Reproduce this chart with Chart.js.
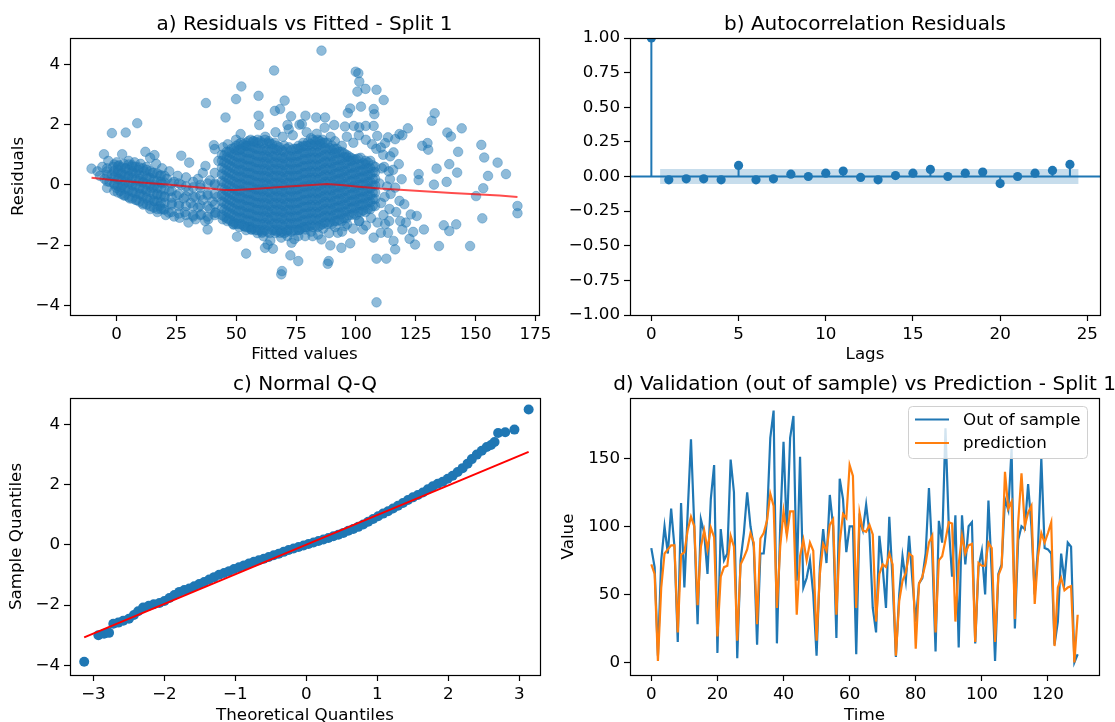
<!DOCTYPE html>
<html>
<head>
<meta charset="utf-8">
<script src="https://cdn.jsdelivr.net/npm/chart.js@4.4.1/dist/chart.umd.min.js"></script>
<style>
  body { margin: 0; background: #fff; width: 1115px; height: 722px; overflow: hidden; position: relative; }
  canvas { position: absolute; }
</style>
</head>
<body>
<canvas id="resid" width="557" height="372" style="left:0;top:0"></canvas>
<canvas id="acf" width="558" height="372" style="left:557px;top:0"></canvas>
<canvas id="qq" width="557" height="361" style="left:0;top:361px"></canvas>
<canvas id="valid" width="558" height="361" style="left:557px;top:361px"></canvas>
<script>
// ---------- data ----------

// a) residuals vs fitted: scattered points, [fitted, residual]
const residualsVsFitted = [
  [-10.5,0.54],[-8,0.45],[-7,0.3],[-6,0.6],[-5.3,1.02],[-5,0.2],[-4,0.45],[-3,0.1],[-3.5,0.8],[-2,1.72],[-2,0.35],[-1.5,0.6],[-1,0.05],[-0.5,0.3],[0,0.75],[0,-0.1],[0.5,0.5],[1,0.2],[1,0.65],[1.5,-0.2],[2,0.4],[2.3,1.02],[2.5,0],[3,0.7],[3,-0.35],[3.5,0.25],[3.8,1.74],[4,0.55],[4.5,-0.1],[5,0.8],[5,0.3],[5.5,-0.45],[6,0.1],[6.5,0.6],[7,-0.25],[7,0.4],[7.5,0.75],[8,0],[8.6,2.05],[8.5,-0.5],[9,0.5],[9.5,0.2],[10,-0.3],[10,0.7],[11,-0.65],[11,0.1],[11.5,0.45],[12,1.1],[12,-0.15],[12.5,0.6],[13,-0.5],[13.5,0.25],[14,-0.8],[14,0.9],[14.5,-0.1],[15,0.4],[15.8,0.99],[16,-0.55],[16,0],[16.5,0.7],[17,-0.9],[17,-0.3],[18,0.3],[18,-0.7],[19,0.05],[19.5,-0.81],[19,0.55],[20,-0.4],[20.5,-1],[21,0.2],[21.8,-0.92],[22,-0.2],[22,0.45],[23,-0.6],[24,0.1],[24,-1.05],[25,-0.35],[25.5,0.3],[26.3,-1.09],[26,-0.7],[27,0.97],[27,0],[28,-0.45],[28.5,-0.9],[29,0.25],[30,-1.25],[30.3,0.74],[30,-0.2],[31,-0.6],[32,0.1],[32,-1],[33,-1.14],[33,-0.4],[34,0.2],[34,-0.75],[35.3,-0.98],[35,-0.1],[36,-0.5],[36,0.4],[37.1,0.63],[37.3,2.72],[37,-1.2],[38,-1.48],[38.3,-1.14],[38,-0.3],[39,-0.8],[39,0.15],[40,-0.55],[40.6,1.32],[41,1.19],[41.3,-0.92],[41,0],[42.5,0.8],[42,-0.4],
  [44.5,1.25],[46.4,1.35],[49.9,1.5],[51.8,1.2],[54.2,1.3],[57.2,1.45],[58.9,1.5],[62.1,1.6],[63.6,1.45],[66.4,1.75],[69.4,1.6],[71.9,1.85],[73.6,1.65],[76.4,2],[79.4,1.75],[81.2,1.55],[83.6,1.7],[86.9,1.9],[89.4,1.6],[91.2,1.45],[94.1,1.3],[96.2,1.6],[98.9,1.4],[101.2,1.65],[104.1,1.5],[106.7,1.35],[108.5,1.2],[111.4,1],[114.3,0.95],[113.7,0.45],[111.8,0.6],[112,-0.4],[114.5,-0.3],[114,-0.8],[111.5,-1],[112.2,-1.3],[113.9,-1.2],[109,-1.25],[106.3,-1.1],[104.2,-1.35],[101.3,-1.2],[98.8,-1.45],[96.3,-1.3],[94.2,-1.55],[91.3,-1.4],[88.8,-1.6],[86.3,-1.45],[84.2,-1.65],[81.3,-1.55],[78.8,-1.7],[76.3,-1.5],[74.2,-1.8],[71.3,-1.55],[68.8,-1.75],[66.3,-1.6],[64.2,-1.85],[61.3,-1.7],[58.8,-1.6],[56.3,-1.48],[54.1,-1.5],[51.2,-1.4],[48.8,-1.31],[46.2,-1.2],
  [85.6,4.46],[65.8,3.8],[99.9,3.76],[101,3.71],[101.4,3.43],[100.6,3.1],[104,3.19],[108.6,3.16],[52.1,3.27],[49.9,2.85],[59.3,2.96],[70.2,2.8],[66.1,2.46],[68.3,2.52],[111.6,2.82],[102.1,2.6],[107.4,2.52],[107.7,2.35],[97.6,2.54],[96.6,2.39],[45.5,2.24],[59.3,2.3],[59.6,1.99],[132.9,2.38],[131.7,2.13],[144.2,1.88],[138.2,1.74],[139.7,1.61],[121.7,1.88],[118.2,1.69],[129.9,1.39],[130.2,1.17],[127.7,1.3],[152.4,1.33],[153.6,0.91],[142.7,1.1],[159.2,0.74],[162.7,0.36],[155.2,0.3],[139,0.69],[142.3,0.41],[133.7,0.54],[137.9,0.1],[132.6,0.01],[126.2,0.36],[126.2,0.16],[153.2,-0.11],[150.2,-0.37],[167.5,-0.7],[167.5,-0.94],[152.8,-1.11],[141.9,-1.31],[136.7,-1.34],[139,-1.53],[128.4,-1.48],[125.4,-1.03],[134.7,-2.03],[147.7,-2.03],[124.7,-1.98],[122.4,-1.79],[116.4,-2.14],[112.7,-2.45],[108.6,-2.45],[108.6,-3.9],[88.2,-2.62],[88.6,-2.53],[68.8,-2.97],[69.1,-2.86],[72.6,-2.34],[75.9,-2.53],[54.1,-2.28],[65.3,-2.12],[62,-2.09],[73.1,-1.92],[89.3,-2.01],[93.9,-2.09],[97.6,-1.94],[107.4,-1.75],[85.6,-1.81],[50.3,-1.72],[51.8,1.69],
  [120.2,-0.64],[122.9,-0.98],[118.2,-0.53],[116.4,-0.09],[114.2,0.19],[119.1,0.19],[117.9,0.69],[115.7,1.08],[112.2,1.39],[108.9,1.63],[110.4,1.24],[113.4,1.58],[116.4,1.52],[119.4,1.65],[107.4,1.96],[104.1,1.96],[101.4,1.91],[99.1,1.96],[95.4,1.94],[90.9,1.99],[87.1,2.24],[83.4,2.24],[78.9,2.3],[72.9,2.28],[71.4,1.99],[77.4,2.02],
  [110.4,-1.59],[113.4,-1.59],[115.7,-1.86],[119.4,-1.48],[120.9,-1.25],[123.9,-1.56],[102.9,-1.48],[101.4,-1.2],[92.4,-1.59],[95.4,-1.37],[81.9,-1.7],[78.9,-1.48],[75.9,-1.7],[71.4,-1.7],[68.3,-1.59],[63.1,-1.98],[60.8,-1.59],[56.3,-1.48],[53.3,-1.37],[48.8,-1.31],[44.3,-1.14],[41.3,-0.92],
  [110.5,-0.6],[109.8,0.05],[110.8,0.55],[113,-0.05],[115.5,0.5],[116.8,-0.9],[118.5,-1.2]
];
// a) the dense body of the cloud, one column of residuals per fitted value
const cloudColumnsX = [-4, -1, 2, 5, 8, 11, 14, 17, 20, 23, 26, 29, 32, 35, 38, 41,
  44, 46, 48, 50, 52, 54, 56, 58, 60, 62, 64, 66, 68, 70, 72, 74, 76, 78, 80, 82, 84, 86, 88, 90, 92, 94, 96, 98, 100, 102, 104, 106, 108,
  0.5, 3.5, 6.5, 9.5, 12.5, 15.5, 18.5,
  45, 47, 49, 51, 53, 55, 57, 59, 61, 63, 65, 67, 69, 71, 73, 75, 77, 79, 81, 83, 85, 87, 89, 91, 93, 95, 97, 99, 101, 103, 105, 107];
const cloudColumnsY = [
  [-0.1,0.12,0.33,0.55],
  [-0.2,0.02,0.25,0.46,0.68],
  [-0.3,-0.08,0.15,0.36,0.58],
  [-0.4,-0.18,0.05,0.27,0.5,0.68],
  [-0.5,-0.27,-0.05,0.18,0.4,0.6],
  [-0.6,-0.37,-0.14,0.08,0.3,0.55],
  [-0.7,-0.46,-0.23,0,0.22,0.45],
  [-0.8,-0.55,-0.32,-0.1,0.13,0.38],
  [-0.82,-0.6,-0.38,-0.15,0.08,0.3],
  [-0.9,-0.65,-0.42,-0.2,0.05],
  [-0.95,-0.62,-0.3,0.05],
  [-1,-0.7,-0.38,-0.05],
  [-1.05,-0.72,-0.4,-0.08],
  [-1,-0.68,-0.35,0],
  [-1.05,-0.7,-0.35,0.05],
  [-1,-0.65,-0.3,0.05,0.4],
  [-1,-0.78,-0.55,-0.33,-0.1,0.12,0.35,0.57,0.8,1],
  [-1.1,-0.88,-0.65,-0.42,-0.2,0.03,0.25,0.48,0.7,0.92,1.1],
  [-1.2,-0.97,-0.75,-0.52,-0.3,-0.08,0.15,0.37,0.6,0.82,1.05,1.2],
  [-1.3,-1.07,-0.85,-0.62,-0.4,-0.18,0.05,0.27,0.5,0.72,0.95,1.15,1.3],
  [-1.3,-1.08,-0.85,-0.63,-0.4,-0.17,0.05,0.28,0.5,0.73,0.95,1.18,1.4],
  [-1.4,-1.17,-0.95,-0.72,-0.5,-0.27,-0.05,0.18,0.4,0.63,0.85,1.08,1.3,1.4],
  [-1.4,-1.18,-0.95,-0.73,-0.5,-0.28,-0.05,0.17,0.4,0.62,0.85,1.07,1.3,1.5],
  [-1.5,-1.27,-1.05,-0.82,-0.6,-0.37,-0.15,0.08,0.3,0.53,0.75,0.98,1.2,1.42],
  [-1.5,-1.28,-1.05,-0.83,-0.6,-0.38,-0.15,0.07,0.3,0.52,0.75,0.97,1.2,1.45],
  [-1.5,-1.27,-1.04,-0.82,-0.6,-0.37,-0.14,0.08,0.3,0.53,0.76,0.98,1.2,1.5],
  [-1.6,-1.37,-1.15,-0.92,-0.7,-0.47,-0.25,-0.02,0.2,0.43,0.65,0.88,1.1,1.38],
  [-1.5,-1.28,-1.05,-0.83,-0.6,-0.38,-0.15,0.07,0.3,0.52,0.75,0.97,1.2,1.4],
  [-1.5,-1.27,-1.05,-0.82,-0.6,-0.37,-0.15,0.08,0.3,0.53,0.75,0.98,1.25],
  [-1.6,-1.37,-1.14,-0.92,-0.7,-0.47,-0.24,-0.02,0.2,0.43,0.66,0.88,1.1,1.3],
  [-1.5,-1.28,-1.05,-0.83,-0.6,-0.38,-0.15,0.07,0.3,0.52,0.75,0.97,1.25],
  [-1.5,-1.27,-1.04,-0.82,-0.6,-0.37,-0.14,0.08,0.3,0.53,0.76,0.98,1.2],
  [-1.5,-1.28,-1.05,-0.83,-0.6,-0.38,-0.15,0.07,0.3,0.52,0.75,0.97,1.2,1.3],
  [-1.4,-1.17,-0.95,-0.72,-0.5,-0.27,-0.05,0.18,0.4,0.63,0.85,1.08,1.3,1.4],
  [-1.4,-1.18,-0.95,-0.73,-0.5,-0.28,-0.05,0.17,0.4,0.62,0.85,1.07,1.3,1.42],
  [-1.4,-1.17,-0.94,-0.72,-0.5,-0.27,-0.04,0.18,0.4,0.63,0.86,1.08,1.3,1.5],
  [-1.4,-1.18,-0.95,-0.73,-0.5,-0.28,-0.05,0.17,0.4,0.62,0.85,1.07,1.3,1.5],
  [-1.3,-1.08,-0.85,-0.63,-0.4,-0.18,0.05,0.27,0.5,0.72,0.95,1.17,1.4,1.5],
  [-1.3,-1.07,-0.85,-0.62,-0.4,-0.17,0.05,0.28,0.5,0.73,0.95,1.18,1.4],
  [-1.3,-1.08,-0.85,-0.63,-0.4,-0.18,0.05,0.27,0.5,0.72,0.95,1.15,1.3],
  [-1.2,-0.97,-0.75,-0.52,-0.3,-0.07,0.15,0.38,0.6,0.83,1.05,1.2],
  [-1.2,-0.98,-0.75,-0.53,-0.3,-0.08,0.15,0.37,0.6,0.82,1.1],
  [-1.1,-0.88,-0.65,-0.43,-0.2,0.02,0.25,0.47,0.7,0.92,1],
  [-1,-0.78,-0.55,-0.33,-0.1,0.12,0.35,0.57,0.8,0.9],
  [-1,-0.77,-0.55,-0.32,-0.1,0.13,0.35,0.58,0.85],
  [-0.9,-0.68,-0.45,-0.23,0,0.22,0.45,0.67,0.9],
  [-0.9,-0.67,-0.45,-0.22,0,0.23,0.45,0.68,0.8],
  [-0.8,-0.57,-0.35,-0.12,0.1,0.33,0.55,0.8],
  [-0.7,-0.47,-0.25,-0.02,0.2,0.43,0.6],
  [-0.25,-0.03,0.2,0.42,0.62],
  [-0.35,-0.13,0.1,0.32,0.55],
  [-0.45,-0.22,0,0.23,0.45,0.65],
  [-0.55,-0.32,-0.1,0.13,0.35,0.58],
  [-0.65,-0.42,-0.2,0.03,0.25,0.5],
  [-0.75,-0.52,-0.3,-0.07,0.15,0.4],
  [-0.8,-0.58,-0.35,-0.12,0.1,0.32],
  [-1.05,-0.83,-0.6,-0.38,-0.15,0.07,0.3,0.52,0.75,0.98],
  [-1.15,-0.93,-0.7,-0.48,-0.25,-0.03,0.2,0.42,0.65,0.87,1.1],
  [-1.25,-1.02,-0.8,-0.57,-0.35,-0.12,0.1,0.33,0.55,0.78,1,1.22],
  [-1.3,-1.1,-0.88,-0.65,-0.43,-0.2,0.02,0.25,0.47,0.7,0.92,1.15,1.35],
  [-1.35,-1.12,-0.9,-0.67,-0.45,-0.22,0,0.23,0.45,0.68,0.9,1.13,1.35],
  [-1.4,-1.18,-0.95,-0.73,-0.5,-0.28,-0.05,0.17,0.4,0.62,0.85,1.07,1.3,1.45],
  [-1.45,-1.22,-1,-0.77,-0.55,-0.32,-0.1,0.13,0.35,0.58,0.8,1.03,1.25,1.45],
  [-1.5,-1.28,-1.05,-0.83,-0.6,-0.38,-0.15,0.07,0.3,0.52,0.75,0.97,1.2,1.4],
  [-1.55,-1.32,-1.1,-0.87,-0.65,-0.42,-0.2,0.03,0.25,0.48,0.7,0.93,1.15,1.38],
  [-1.55,-1.33,-1.1,-0.88,-0.65,-0.43,-0.2,0.02,0.25,0.47,0.7,0.92,1.15,1.38],
  [-1.5,-1.28,-1.05,-0.83,-0.6,-0.38,-0.15,0.07,0.3,0.52,0.75,0.97,1.2,1.35],
  [-1.55,-1.32,-1.1,-0.87,-0.65,-0.42,-0.2,0.03,0.25,0.48,0.7,0.93,1.15,1.3],
  [-1.55,-1.33,-1.1,-0.88,-0.65,-0.43,-0.2,0.02,0.25,0.47,0.7,0.92,1.15],
  [-1.5,-1.28,-1.05,-0.83,-0.6,-0.38,-0.15,0.07,0.3,0.52,0.75,0.97,1.2],
  [-1.55,-1.32,-1.1,-0.87,-0.65,-0.42,-0.2,0.03,0.25,0.48,0.7,0.93,1.15],
  [-1.5,-1.28,-1.05,-0.83,-0.6,-0.38,-0.15,0.07,0.3,0.52,0.75,0.97,1.2],
  [-1.45,-1.22,-1,-0.77,-0.55,-0.32,-0.1,0.13,0.35,0.58,0.8,1.03,1.25],
  [-1.4,-1.18,-0.95,-0.73,-0.5,-0.28,-0.05,0.17,0.4,0.62,0.85,1.07,1.3],
  [-1.35,-1.12,-0.9,-0.67,-0.45,-0.22,0,0.23,0.45,0.68,0.9,1.13,1.35],
  [-1.35,-1.12,-0.9,-0.67,-0.45,-0.22,0,0.23,0.45,0.68,0.9,1.13,1.35,1.45],
  [-1.35,-1.13,-0.9,-0.68,-0.45,-0.23,0,0.22,0.45,0.67,0.9,1.12,1.35,1.45],
  [-1.25,-1.02,-0.8,-0.57,-0.35,-0.12,0.1,0.33,0.55,0.78,1,1.23,1.4],
  [-1.25,-1.03,-0.8,-0.58,-0.35,-0.13,0.1,0.32,0.55,0.77,1,1.22],
  [-1.2,-0.98,-0.75,-0.53,-0.3,-0.08,0.15,0.37,0.6,0.82,1.05,1.2],
  [-1.15,-0.92,-0.7,-0.47,-0.25,-0.02,0.2,0.43,0.65,0.88,1.1],
  [-1.1,-0.88,-0.65,-0.43,-0.2,0.02,0.25,0.47,0.7,0.92,1.05],
  [-1,-0.78,-0.55,-0.33,-0.1,0.12,0.35,0.57,0.8,0.95],
  [-0.95,-0.72,-0.5,-0.27,-0.05,0.18,0.4,0.63,0.85],
  [-0.9,-0.67,-0.45,-0.22,0,0.23,0.45,0.68,0.88],
  [-0.85,-0.62,-0.4,-0.17,0.05,0.28,0.5,0.72],
  [-0.8,-0.57,-0.35,-0.12,0.1,0.33,0.55,0.75],
  [-0.7,-0.47,-0.25,-0.02,0.2,0.43,0.65]
];
const lowessFitted = [-10.5, 0, 10, 20, 30, 40, 45, 50, 60, 70, 80, 88, 95, 100, 110, 120, 130, 140, 150, 160, 167.5];
const lowessResid  = [0.24, 0.15, 0.08, 0.02, -0.05, -0.13, -0.17, -0.17, -0.12, -0.06, -0.01, 0.03, -0.01, -0.05, -0.12, -0.17, -0.22, -0.27, -0.31, -0.35, -0.4];

// b) autocorrelation of residuals
const acfLags = [0,1,2,3,4,5,6,7,8,9,10,11,12,13,14,15,16,17,18,19,20,21,22,23,24];
const acfValues = [1, -0.024, -0.017, -0.017, -0.024, 0.08, -0.024, -0.017, 0.017, 0, 0.024, 0.039, -0.007, -0.024, 0.007, 0.024, 0.051, 0, 0.024, 0.032, -0.051, 0, 0.024, 0.044, 0.087];
const acfBand = 0.055;

// c) normal Q-Q, [theoretical, sample]
const qqPoints = [
  [-3.13,-3.88],[-2.93,-3.0],[-2.85,-2.95],[-2.78,-2.92],[-2.72,-2.62],[-2.65,-2.58],[-2.58,-2.52],[-2.5,-2.45],[-2.43,-2.33],[-2.37,-2.2],[-2.3,-2.08],[-2.22,-2.02],[-2.15,-1.97],[-2.07,-1.93],[-2.0,-1.86],[-1.93,-1.76],[-1.86,-1.66],[-1.79,-1.56],[-1.72,-1.5],[-1.65,-1.45],[-1.58,-1.37],[-1.51,-1.3],[-1.44,-1.23],[-1.37,-1.15],[-1.3,-1.07],[-1.23,-0.99],[-1.16,-0.93],[-1.09,-0.87],[-1.02,-0.8],[-0.95,-0.74],[-0.88,-0.68],[-0.81,-0.62],[-0.74,-0.56],[-0.67,-0.51],[-0.6,-0.46],[-0.53,-0.4],[-0.46,-0.34],[-0.39,-0.29],[-0.32,-0.23],[-0.25,-0.17],[-0.18,-0.12],[-0.11,-0.07],[-0.04,-0.02],[0.03,0.03],[0.1,0.08],[0.17,0.13],[0.24,0.18],[0.31,0.23],[0.38,0.29],[0.45,0.34],[0.52,0.4],[0.59,0.47],[0.66,0.53],[0.73,0.6],[0.8,0.68],[0.87,0.77],[0.94,0.86],[1.01,0.95],[1.08,1.04],[1.15,1.12],[1.22,1.21],[1.29,1.3],[1.36,1.39],[1.43,1.49],[1.5,1.58],[1.57,1.66],[1.64,1.74],[1.71,1.85],[1.78,1.95],[1.85,2.03],[1.92,2.1],[1.99,2.2],[2.06,2.3],[2.13,2.42],[2.2,2.55],[2.27,2.7],[2.33,2.85],[2.4,3.0],[2.47,3.13],[2.54,3.25],[2.6,3.32],[2.65,3.42],[2.7,3.72],[2.8,3.74],[2.93,3.83],[3.13,4.5]
];
const qqLineX = [-3.13, 3.13];
const qqLineY = [-3.07, 3.09];

// d) validation vs prediction
const outOfSample = [84,70,5,75,100,80,113,85,15,117,55,110,164,100,28,105,95,65,120,145,7,98,75,80,149,125,3,75,95,125,100,85,13,80,80,105,165,185,14,100,162,95,165,181,60,151,55,62,75,50,5,70,98,73,123,100,18,135,120,81,100,100,6,105,97,116,95,40,22,93,70,40,107,60,4,50,78,60,93,60,30,58,62,80,128,80,8,104,88,172,100,63,108,11,108,72,100,103,14,70,82,50,119,65,1,65,72,120,112,157,25,90,100,98,131,100,50,85,150,84,83,80,13,30,80,60,88,85,0,6];
const prediction  = [72,65,1,55,80,83,86,86,22,79,81,97,107,100,42,85,97,83,99,92,19,63,70,71,93,85,16,72,77,83,95,88,28,91,95,104,124,115,40,85,111,93,111,111,35,78,90,75,88,82,16,65,87,82,101,105,35,88,109,106,145,137,40,110,97,96,101,94,30,65,72,70,80,72,5,45,60,66,80,78,10,58,63,73,88,93,22,75,78,90,103,102,30,72,93,80,86,87,15,73,71,71,88,84,15,64,70,140,113,118,32,103,139,100,110,115,43,78,95,88,95,103,12,55,62,53,55,56,0,35];
const timeSteps = outOfSample.map((v, i) => i);

// tick labels
const residTicksX = [0, 25, 50, 75, 100, 125, 150, 175];
const residTicksY = [-4, -2, 0, 2, 4];
const acfTicksX = [0, 5, 10, 15, 20, 25];
const acfTicksY = [-1, -0.75, -0.5, -0.25, 0, 0.25, 0.5, 0.75, 1];
const qqTicksX = [-3, -2, -1, 0, 1, 2, 3];
const qqTicksY = [-4, -2, 0, 2, 4];
const validTicksX = [0, 20, 40, 60, 80, 100, 120];
const validTicksY = [0, 50, 100, 150];

// ---------- styling ----------
const BLUE = '#1f77b4';
const ORANGE = '#ff7f0e';
const FONT = 'DejaVu Sans';
const TICK_SIZE = 16.7;
const LABEL_SIZE = 16.7;
const TITLE_SIZE = 20;

Chart.defaults.font.family = FONT;
Chart.defaults.color = '#000';
Chart.defaults.animation = false;

const minus = s => String(s).replace('-', '\u2212');
const fmtInt = v => minus(v);
const fmt2 = v => minus(v.toFixed(2));

// frame round the plot area, panel title and (optional) legend
const panelPlugin = {
  id: 'panel',
  afterDraw(chart, args, opts) {
    const { ctx, chartArea: a } = chart;
    ctx.save();
    ctx.strokeStyle = '#000';
    ctx.lineWidth = 1.2;
    ctx.strokeRect(Math.round(a.left) + 0.5, Math.round(a.top) + 0.5, Math.round(a.right - a.left), Math.round(a.bottom - a.top));
    ctx.fillStyle = '#000';
    ctx.font = TITLE_SIZE + 'px "' + FONT + '"';
    ctx.textAlign = 'center';
    ctx.textBaseline = 'alphabetic';
    ctx.fillText(opts.title, (a.left + a.right) / 2, a.top - 8.5);
    if (opts.legend) {
      const lg = opts.legend;
      const x = a.right - lg.width - 12, y = a.top + 8;
      ctx.fillStyle = 'rgba(255,255,255,0.8)';
      ctx.strokeStyle = '#d0d0d0';
      ctx.lineWidth = 1;
      ctx.beginPath();
      ctx.roundRect(x + 0.5, y + 0.5, lg.width, lg.height, 4);
      ctx.fill();
      ctx.stroke();
      ctx.font = LABEL_SIZE + 'px "' + FONT + '"';
      ctx.textAlign = 'left';
      ctx.textBaseline = 'middle';
      lg.items.forEach((it, i) => {
        const yy = y + 13.5 + i * 23.5;
        ctx.strokeStyle = it.color;
        ctx.lineWidth = 2.2;
        ctx.beginPath();
        ctx.moveTo(x + 7, yy);
        ctx.lineTo(x + 41, yy);
        ctx.stroke();
        ctx.fillStyle = '#000';
        ctx.fillText(it.label, x + 55, yy + 1);
      });
    }
    ctx.restore();
  }
};

function scale(min, max, ticks, fmt, title, fit, titlePad) {
  return {
    type: 'linear', min, max,
    afterBuildTicks: s => { s.ticks = ticks.map(v => ({ value: v })); },
    afterFit: fit,
    ticks: { callback: v => fmt(v), autoSkip: false, maxRotation: 0, padding: 4, font: { size: TICK_SIZE } },
    grid: { drawOnChartArea: false, drawTicks: true, tickLength: 6, tickColor: '#000', tickWidth: 1.2 },
    border: { display: false },
    title: title
      ? { display: true, text: title, font: { size: LABEL_SIZE, lineHeight: 0.8 }, padding: titlePad || 0 }
      : { display: false }
  };
}

function baseOptions(title, pad, xs, ys, legend) {
  return {
    responsive: false,
    devicePixelRatio: 1,
    animation: false,
    layout: { padding: pad },
    plugins: { legend: { display: false }, tooltip: { enabled: false }, panel: { title, legend } },
    scales: { x: xs, y: ys }
  };
}

const toXY = pairs => pairs.map(p => ({ x: p[0], y: p[1] }));
const zip = (xs, ys) => xs.map((x, i) => ({ x, y: ys[i] }));

// a) residuals vs fitted
const residPoints = toXY(residualsVsFitted);
cloudColumnsX.forEach((x, i) => cloudColumnsY[i].forEach(y => residPoints.push({ x, y })));

new Chart(document.getElementById('resid'), {
  type: 'scatter',
  data: {
    datasets: [
      { data: zip(lowessFitted, lowessResid), showLine: true, borderColor: 'rgba(255,0,0,0.7)', borderWidth: 2, pointRadius: 0, order: 0 },
      { data: residPoints, backgroundColor: 'rgba(31,119,180,0.5)', borderColor: 'rgba(31,119,180,0.45)', borderWidth: 0.8, pointRadius: 4.8, order: 1 }
    ]
  },
  options: baseOptions('a) Residuals vs Fitted - Split 1', { left: 0, right: 18, top: 38, bottom: 11 },
    scale(-19.5, 176.5, residTicksX, fmtInt, 'Fitted values', s => { s.height = 46; }),
    scale(-4.32, 4.88, residTicksY, fmtInt, 'Residuals', s => { s.width = 70; }, { top: 11.5 })),
  plugins: [panelPlugin]
});

// b) autocorrelation
const stems = [];
acfLags.forEach((lag, i) => { stems.push({ x: lag, y: 0 }, { x: lag, y: acfValues[i] }, { x: lag, y: NaN }); });
new Chart(document.getElementById('acf'), {
  type: 'scatter',
  data: {
    datasets: [
      { data: zip(acfLags, acfValues), backgroundColor: BLUE, borderWidth: 0, pointRadius: 4.6, clip: 0, order: 0 },
      { data: stems, showLine: true, spanGaps: false, borderColor: BLUE, borderWidth: 2, pointRadius: 0, order: 1 },
      { data: [{ x: -1.225, y: 0 }, { x: 25.725, y: 0 }], showLine: true, borderColor: BLUE, borderWidth: 2.2, pointRadius: 0, order: 2 },
      { data: [{ x: 0.5, y: acfBand }, { x: 24.5, y: acfBand }], showLine: true, borderWidth: 0, pointRadius: 0, fill: '+1', backgroundColor: 'rgba(31,119,180,0.25)', order: 3 },
      { data: [{ x: 0.5, y: -acfBand }, { x: 24.5, y: -acfBand }], showLine: true, borderWidth: 0, pointRadius: 0, order: 4 }
    ]
  },
  options: baseOptions('b) Autocorrelation Residuals', { left: 0, right: 15, top: 38, bottom: 11 },
    scale(-1.225, 25.725, acfTicksX, fmtInt, 'Lags', s => { s.height = 46; }),
    scale(-1, 1, acfTicksY, fmt2, null, s => { s.width = 73; })),
  plugins: [panelPlugin]
});

// c) normal Q-Q
new Chart(document.getElementById('qq'), {
  type: 'scatter',
  data: {
    datasets: [
      { data: zip(qqLineX, qqLineY), showLine: true, borderColor: '#ff0000', borderWidth: 2, pointRadius: 0, order: 0 },
      { data: toXY(qqPoints), backgroundColor: BLUE, borderWidth: 0, pointRadius: 5, order: 1 }
    ]
  },
  options: baseOptions('c) Normal Q-Q', { left: 0, right: 17, top: 37, bottom: 0 },
    scale(-3.33, 3.29, qqTicksX, fmtInt, 'Theoretical Quantiles', s => { s.height = 47; }),
    scale(-4.32, 4.88, qqTicksY, fmtInt, 'Sample Quantiles', s => { s.width = 70; }, { top: 9.5 })),
  plugins: [panelPlugin]
});

// d) validation vs prediction
new Chart(document.getElementById('valid'), {
  type: 'scatter',
  data: {
    datasets: [
      { data: zip(timeSteps, prediction), showLine: true, borderColor: ORANGE, borderWidth: 2.2, pointRadius: 0, order: 0 },
      { data: zip(timeSteps, outOfSample), showLine: true, borderColor: BLUE, borderWidth: 2.2, pointRadius: 0, order: 1 }
    ]
  },
  options: baseOptions('d) Validation (out of sample) vs Prediction - Split 1', { left: 0, right: 16, top: 37, bottom: 0 },
    scale(-6.45, 135.45, validTicksX, fmtInt, 'Time', s => { s.height = 47; }),
    scale(-9.25, 194.25, validTicksY, fmtInt, 'Value', s => { s.width = 73; }, { top: 4.5 }),
    { width: 179, height: 52, items: [{ label: 'Out of sample', color: BLUE }, { label: 'prediction', color: ORANGE }] }),
  plugins: [panelPlugin]
});
</script>
</body>
</html>
